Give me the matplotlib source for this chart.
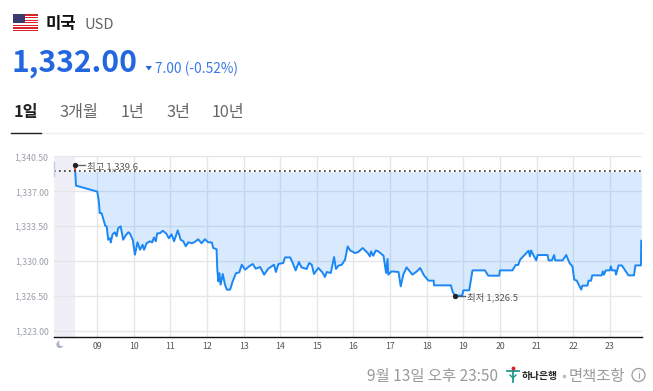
import numpy as np
from matplotlib import pyplot as plt
from matplotlib.patches import Rectangle, Circle

plt.rcParams['font.family'] = ['Noto Sans CJK KR', 'DejaVu Sans']

# hour of day / rate
hours = [8.39, 8.42, 9.0, 9.04, 9.07, 9.12, 9.16, 9.22, 9.26, 9.30, 9.35, 9.37, 9.42, 9.48, 9.53, 9.57, 9.64, 9.71, 9.78, 9.85, 9.89, 9.97,
         10.03, 10.1, 10.17, 10.24, 10.28, 10.35, 10.44, 10.5, 10.55, 10.6, 10.64, 10.71, 10.79, 10.88, 10.96,
         11.03, 11.1, 11.2, 11.28, 11.35, 11.42, 11.49, 11.58, 11.65, 11.76, 11.85, 11.94,
         12.03, 12.13, 12.17, 12.26, 12.28, 12.31, 12.335, 12.37, 12.43, 12.49, 12.54, 12.63, 12.70, 12.79, 12.88, 12.95,
         13.04, 13.17, 13.25, 13.33, 13.45, 13.56, 13.67, 13.83, 13.88, 13.95,
         14.08, 14.13, 14.27, 14.34, 14.42, 14.51, 14.58, 14.72, 14.79, 14.86, 14.92,
         15.04, 15.15, 15.22, 15.27, 15.38, 15.47, 15.52, 15.59, 15.68, 15.77, 15.84, 15.91,
         16.04, 16.13, 16.25, 16.39, 16.45, 16.48, 16.54, 16.61, 16.68, 16.82, 16.89, 16.93, 16.95,
         17.04, 17.23, 17.29, 17.36, 17.45, 17.61, 17.73, 17.82, 17.93,
         18.05, 18.19, 18.2, 18.66, 18.71, 18.77, 18.97,
         19.0, 19.16, 19.25, 19.59, 19.68, 19.98,
         20.0, 20.34, 20.43, 20.5, 20.55, 20.78, 20.82, 20.85, 20.99,
         21.03, 21.3, 21.33, 21.42, 21.48, 21.51, 21.71, 21.81, 21.9, 21.98,
         22.03, 22.1, 22.16, 22.22, 22.25, 22.39, 22.42, 22.49, 22.52, 22.78, 22.81, 22.84, 22.89,
         23.0, 23.03, 23.06, 23.15, 23.17, 23.24, 23.33, 23.42, 23.51, 23.66, 23.7, 23.85, 23.86]
rates = [1339.65, 1337.58, 1336.98, 1336.15, 1334.82, 1334.82, 1334.32, 1333.55, 1333.48, 1332.15, 1332.3, 1331.88, 1332.7, 1332.9, 1332.5, 1333.3, 1333.5, 1332.15, 1332.6, 1332.9, 1332.8, 1332.15,
         1330.65, 1331.9, 1331.15, 1331.65, 1331.15, 1331.8, 1332.0, 1331.88, 1332.38, 1332.0, 1332.8, 1332.8, 1333.05, 1332.8, 1332.3,
         1332.7, 1332.0, 1333.1, 1332.15, 1332.0, 1331.5, 1331.9, 1331.8, 1331.9, 1332.2, 1331.8, 1332.2,
         1331.9, 1331.88, 1331.32, 1331.2, 1329.15, 1327.98, 1328.8, 1327.65, 1328.72, 1327.65, 1327.15, 1327.15, 1327.98, 1328.8, 1328.88, 1329.65,
         1329.15, 1329.55, 1329.72, 1329.25, 1329.42, 1328.65, 1329.25, 1329.65, 1328.92, 1329.72,
         1329.82, 1330.38, 1330.38, 1329.82, 1329.08, 1329.92, 1329.38, 1329.22, 1329.82, 1329.65, 1328.72,
         1329.32, 1328.88, 1328.42, 1328.92, 1328.82, 1330.42, 1329.22, 1329.55, 1329.65, 1330.15, 1331.48, 1331.08,
         1330.82, 1330.92, 1331.32, 1330.82, 1330.48, 1330.98, 1330.55, 1331.08, 1330.98, 1330.55, 1328.82, 1330.22, 1328.65,
         1328.98, 1328.92, 1327.48, 1328.65, 1329.38, 1328.65, 1328.98, 1329.32, 1328.55,
         1328.05, 1328.05, 1327.58, 1327.58, 1326.92, 1326.55, 1326.55,
         1327.08, 1327.08, 1329.08, 1329.08, 1328.55, 1328.55,
         1329.08, 1329.08, 1329.62, 1329.62, 1330.15, 1331.05, 1330.48, 1331.08, 1330.08,
         1330.62, 1330.62, 1330.08, 1330.08, 1330.62, 1330.08, 1330.08, 1330.62, 1329.82, 1329.48,
         1328.15, 1328.05, 1327.58, 1327.15, 1327.55, 1327.55, 1328.05, 1328.05, 1328.58, 1328.58, 1328.98, 1328.65, 1329.08,
         1329.08, 1329.48, 1329.08, 1329.08, 1328.65, 1329.58, 1329.58, 1329.08, 1328.58, 1328.58, 1329.58, 1329.58, 1332.05]

prev_close = 1339.0
high = (8.39, 1339.6)
low = (18.77, 1326.5)
y_ticks = [1323.0, 1326.5, 1330.0, 1333.5, 1337.0, 1340.5]
x_ticks = list(range(9, 24))
x_labels = ['09', '10', '11', '12', '13', '14', '15', '16', '17', '18', '19', '20', '21', '22', '23']
tabs = ['1일', '3개월', '1년', '3년', '10년']

W, H = 653, 391
fig = plt.figure(figsize=(W / 100, H / 100), dpi=100)

# chart area, placed by pixels
ax = fig.add_axes([54 / W, 1 - 336.5 / H, 588 / W, 180.5 / H])
ax.set_xlim(7.82, 23.88)
ax.set_ylim(1322.45, 1340.55)

ax.axvspan(7.82, 8.39, color='#eff0f7', lw=0, zorder=0)
ax.grid(True, color='#e6e6e6', lw=1.0, zorder=1)
ax.set_axisbelow(True)

h = np.array(hours)
r = np.array(rates)
ax.fill_between(h, r, prev_close, where=r <= prev_close + 0.7, color='#1e88ff', alpha=0.17, lw=0, zorder=2)
ax.plot(h, r, color='#1a87f5', lw=1.4, zorder=3, solid_joinstyle='round')
ax.plot([8.39, 8.39], [prev_close, 1339.6], color='#e0504a', lw=1.3, zorder=3)
ax.plot([7.82, 23.88], [prev_close, prev_close], color='#333333', lw=1.2, ls=(0, (1, 2)), zorder=4)
ax.plot([7.82, 7.82], [1338.5, 1339.9], color='#c5cade', lw=1.0, zorder=4, clip_on=False)

# high / low markers
ax.plot([high[0], high[0] + 0.28], [high[1], high[1]], color='#666666', lw=1.0, zorder=5)
ax.plot(*high, 'o', color='#222222', ms=2.8, zorder=6)
ax.text(high[0] + 0.34, high[1], '최고 1,339.6', fontsize=6.8, color='#555555', va='center_baseline', zorder=6)
ax.plot([low[0], low[0] + 0.28], [low[1], low[1]], color='#44607a', lw=1.0, zorder=5)
ax.plot(*low, 'o', color='#222222', ms=2.8, zorder=6)
ax.text(low[0] + 0.34, low[1], '최저 1,326.5', fontsize=6.8, color='#555555', va='center_baseline', zorder=6)

for side in ['top', 'left', 'right']:
    ax.spines[side].set_visible(False)
ax.spines['bottom'].set_color('#111111')
ax.spines['bottom'].set_linewidth(1.0)

ax.set_xticks(x_ticks)
ax.set_xticklabels(x_labels, fontsize=6.3, color='#555555')
ax.set_yticks(y_ticks)
ax.set_yticklabels(['{:,.2f}'.format(v) for v in y_ticks], fontsize=6.3, color='#9a9fa8', va='center_baseline')
ax.tick_params(axis='both', length=0)
ax.tick_params(axis='x', pad=4)
ax.tick_params(axis='y', pad=4)

# everything around the chart, pixel coordinates
ov = fig.add_axes([0, 0, 1, 1], facecolor='none')
ov.set_xlim(0, W)
ov.set_ylim(H, 0)
ov.axis('off')

# flag
for i in range(13):
    ov.add_patch(Rectangle((13, 14.3 + i * 1.3), 25, 1.3, color='#d8232a' if i % 2 == 0 else 'white', lw=0))
ov.add_patch(Rectangle((13, 14.3), 12, 9, color='#3c3b6e', lw=0))

ov.text(46, 24.5, '미국', fontsize=12, fontweight='bold', color='#111111', va='center')
ov.text(84, 25, 'USD', fontsize=10.6, color='#666666', va='center')
ov.text(12, 63, '1,332.00', fontsize=21.6, fontweight='bold', color='#2267e0', va='center')
ov.fill([145.5, 152, 148.8], [66, 66, 70.5], color='#2267e0', lw=0)
ov.text(155, 68.5, '7.00 (-0.52%)', fontsize=9.9, color='#3c78e8', va='center')

tab_x = [14, 59, 121, 166, 212]
for i, (lab, tx) in enumerate(zip(tabs, tab_x)):
    ov.text(tx, 112, lab, fontsize=11.7, va='center', color='#222222' if i == 0 else '#666666',
            fontweight='bold' if i == 0 else 'normal')
ov.plot([11, 642], [133, 133], color='#eeeeee', lw=1.0)
ov.plot([11, 41], [133, 133], color='#222222', lw=1.0)

# moon
ov.add_patch(Circle((60, 344.5), 3.6, color='#aab0cf', lw=0))
ov.add_patch(Circle((62, 343.2), 3.0, color='white', lw=0))

# footer
ov.text(367, 376.5, '9월 13일 오후 23:50', fontsize=11.1, color='#9a9a9a', va='center')
ov.plot([507, 519], [371, 371], color='#1b9a8c', lw=1.3)
ov.plot([513, 513], [371, 382], color='#1b9a8c', lw=1.3)
ov.plot([510, 513, 516], [375, 378, 375], color='#1b9a8c', lw=1.0)
ov.plot(513, 368, 'o', color='#d8232a', ms=1.8)
ov.text(522, 376.5, '하나은행', fontsize=7.0, fontweight='bold', color='#222222', va='center')
ov.plot(563.5, 376, 'o', color='#bbbbbb', ms=1.6)
ov.text(569, 376.5, '면책조항', fontsize=11.1, color='#9a9a9a', va='center')
ov.add_patch(Circle((638.5, 375), 6.5, fill=False, ec='#9a9a9a', lw=0.9))
ov.text(638.5, 375, 'i', fontsize=7.5, color='#9a9a9a', ha='center', va='center_baseline')

fig.savefig('out.png', dpi=100)
